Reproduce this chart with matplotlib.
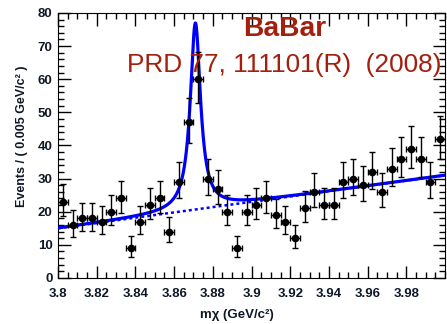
import matplotlib
matplotlib.use("Agg")
import matplotlib.pyplot as plt
import numpy as np
from matplotlib.ticker import MultipleLocator

plt.rcParams['font.family'] = ['Liberation Sans', 'DejaVu Sans']

# bin centres (0.005 GeV wide) and counts
mass = [3.8025, 3.8075, 3.8125, 3.8175, 3.8225, 3.8275, 3.8325, 3.8375, 3.8425, 3.8475,
        3.8525, 3.8575, 3.8625, 3.8675, 3.8725, 3.8775, 3.8825, 3.8875, 3.8925, 3.8975,
        3.9025, 3.9075, 3.9125, 3.9175, 3.9225, 3.9275, 3.9325, 3.9375, 3.9425, 3.9475,
        3.9525, 3.9575, 3.9625, 3.9675, 3.9725, 3.9775, 3.9825, 3.9875, 3.9925, 3.9975]
events = [23, 16, 18, 18, 17, 20, 24, 9, 17, 22,
          24, 14, 29, 47, 60, 30, 27, 20, 9, 20,
          22, 24, 19, 17, 12, 21, 26, 22, 22, 29,
          30, 28, 32, 26, 33, 36, 39, 36, 29, 42]

# fit: linear background + Breit-Wigner peak
bg_start, bg_end = 15.0, 31.0
peak_mass, peak_width, peak_height = 3.871, 0.0032, 56.3

mass = np.array(mass)
events = np.array(events)
yerr_lo = events - (events + 0.5 - np.sqrt(events + 0.25))
yerr_hi = (events + 0.5 + np.sqrt(events + 0.25)) - events

xf = np.linspace(3.8, 4.0, 2000)
bg = bg_start + (bg_end - bg_start) * (xf - 3.8) / 0.2
sig = peak_height * peak_width**2 / ((xf - peak_mass)**2 + peak_width**2)

fig = plt.figure(figsize=(4.47, 3.24), dpi=100)
ax = fig.add_axes([0.1298, 0.142, 0.8657, 0.818])

ax.plot(xf, bg, color='#0000ff', lw=1.8, ls=(0, (1.2, 1.2)), zorder=2)
ax.plot(xf, bg + sig, color='#0000ff', lw=2.3, zorder=3)

ax.errorbar(mass, events, xerr=0.0025, yerr=[yerr_lo, yerr_hi], fmt='o', color='black',
            ms=4.5, elinewidth=1.0, capsize=2, capthick=1.0, zorder=4)

ax.set_xlim(3.8, 4.0)
ax.set_ylim(0, 80)
ax.xaxis.set_minor_locator(MultipleLocator(0.005))
ax.yaxis.set_major_locator(MultipleLocator(10))
ax.yaxis.set_minor_locator(MultipleLocator(2))
ax.set_xticks(np.arange(3.8, 3.99, 0.02))
ax.set_xticklabels(['3.8', '3.82', '3.84', '3.86', '3.88', '3.9', '3.92', '3.94', '3.96', '3.98'])
ax.tick_params(which='both', direction='in', top=True, right=True, width=1.0)
ax.tick_params(which='major', length=9, labelsize=9.5)
ax.tick_params(which='minor', length=4.5)
ax.tick_params(axis='x', which='major', pad=7)
ax.tick_params(axis='y', which='major', pad=4)
for lab in ax.get_xticklabels() + ax.get_yticklabels():
    lab.set_fontweight('bold')
    lab.set_color('#101828')

fig.text(0.049, 0.578, 'Events / ( 0.005 GeV/c² )', rotation=90, ha='center', va='center',
         fontsize=9, fontweight='bold', color='#101828')
fig.text(0.53, 0.028, 'mχ (GeV/c²)', ha='center', va='center',
         fontsize=9.5, fontweight='bold', color='#101828')

fig.text(0.544, 0.888, 'BaBar', fontsize=20.3, fontweight='bold', color='#a3200e',
         ha='left', va='baseline')
fig.text(0.284, 0.778, 'PRD 77, 111101(R)  (2008)', fontsize=18.9, color='#a3200e',
         ha='left', va='baseline')

fig.savefig('out.png', dpi=100)
